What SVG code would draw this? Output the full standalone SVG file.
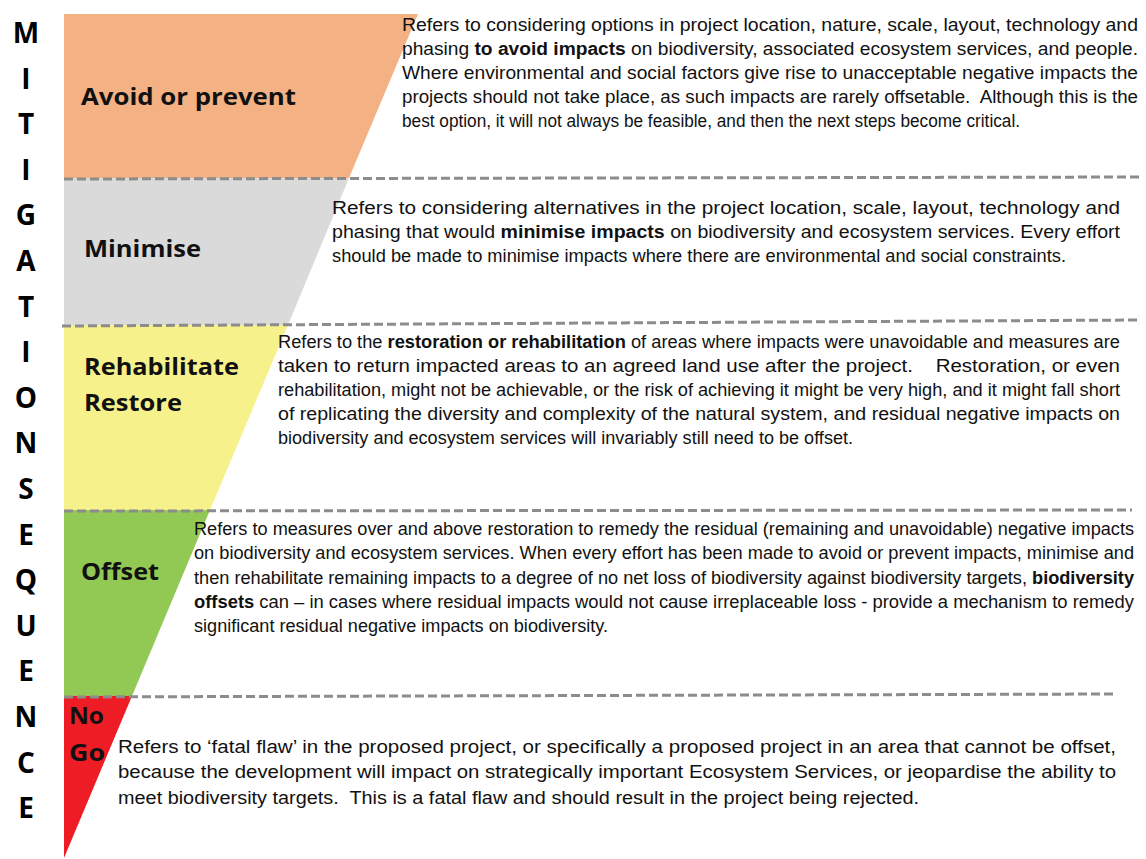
<svg xmlns="http://www.w3.org/2000/svg" width="1146" height="859" viewBox="0 0 1146 859">
<style>
.vl{font-family:"Open Sans",Lato,sans-serif;font-weight:700;font-size:28px;fill:#000;text-anchor:middle}
.lab{font-family:"Open Sans",Lato,sans-serif;font-weight:700;font-size:23px;fill:#111}
.d{font-family:"Liberation Sans",Arial,sans-serif;font-size:17.5px;fill:#111;white-space:pre}
.b{font-weight:700}
.dash{stroke:#8c8c8c;stroke-width:3;stroke-dasharray:9 4;fill:none}
</style>
<rect width="1146" height="859" fill="#fff"/>
<g id="title">
<text class="vl" x="26" y="43">M</text>
<text class="vl" x="26" y="89">I</text>
<text class="vl" x="26" y="134">T</text>
<text class="vl" x="26" y="180">I</text>
<text class="vl" x="26" y="225">G</text>
<text class="vl" x="26" y="271">A</text>
<text class="vl" x="26" y="317">T</text>
<text class="vl" x="26" y="362">I</text>
<text class="vl" x="26" y="408">O</text>
<text class="vl" x="26" y="453">N</text>
<text class="vl" x="26" y="499">S</text>
<text class="vl" x="26" y="545">E</text>
<text class="vl" x="26" y="590">Q</text>
<text class="vl" x="26" y="636">U</text>
<text class="vl" x="26" y="681">E</text>
<text class="vl" x="26" y="727">N</text>
<text class="vl" x="26" y="773">C</text>
<text class="vl" x="26" y="818">E</text>
</g>
<g id="avoid">
<polygon points="64,14 418,14 349,178 64,178" fill="#F4B183"/>
<text class="lab" x="81" y="105" textLength="215" lengthAdjust="spacingAndGlyphs">Avoid or prevent</text>
<text class="d" x="402" y="31" textLength="736" lengthAdjust="spacingAndGlyphs">Refers to considering options in project location, nature, scale, layout, technology and</text>
<text class="d" x="402" y="55" textLength="736" lengthAdjust="spacingAndGlyphs">phasing <tspan class="b">to avoid impacts</tspan> on biodiversity, associated ecosystem services, and people.</text>
<text class="d" x="402" y="79" textLength="736" lengthAdjust="spacingAndGlyphs">Where environmental and social factors give rise to unacceptable negative impacts the</text>
<text class="d" x="402" y="103" textLength="736" lengthAdjust="spacingAndGlyphs">projects should not take place, as such impacts are rarely offsetable.  Although this is the</text>
<text class="d" x="402" y="127" textLength="618" lengthAdjust="spacingAndGlyphs">best option, it will not always be feasible, and then the next steps become critical.</text>
</g>
<g id="minimise">
<polygon points="64,178 349,178 288,325 64,325" fill="#DADADA"/>
<text class="lab" x="84" y="257" textLength="117" lengthAdjust="spacingAndGlyphs">Minimise</text>
<text class="d" x="332" y="214" textLength="788" lengthAdjust="spacingAndGlyphs">Refers to considering alternatives in the project location, scale, layout, technology and</text>
<text class="d" x="332" y="238" textLength="788" lengthAdjust="spacingAndGlyphs">phasing that would <tspan class="b">minimise impacts</tspan> on biodiversity and ecosystem services. Every effort</text>
<text class="d" x="332" y="262" textLength="734" lengthAdjust="spacingAndGlyphs">should be made to minimise impacts where there are environmental and social constraints.</text>
</g>
<g id="rehabilitate">
<polygon points="64,325 288,325 210,510 64,510" fill="#F7F18C"/>
<text class="lab" x="84" y="375" textLength="155" lengthAdjust="spacingAndGlyphs">Rehabilitate</text>
<text class="lab" x="84" y="411" textLength="98" lengthAdjust="spacingAndGlyphs">Restore</text>
<text class="d" x="278" y="348" textLength="842" lengthAdjust="spacingAndGlyphs">Refers to the <tspan class="b">restoration or rehabilitation</tspan> of areas where impacts were unavoidable and measures are</text>
<text class="d" x="278" y="372" textLength="842" lengthAdjust="spacingAndGlyphs">taken to return impacted areas to an agreed land use after the project.    Restoration, or even</text>
<text class="d" x="278" y="396" textLength="842" lengthAdjust="spacingAndGlyphs">rehabilitation, might not be achievable, or the risk of achieving it might be very high, and it might fall short</text>
<text class="d" x="278" y="420" textLength="842" lengthAdjust="spacingAndGlyphs">of replicating the diversity and complexity of the natural system, and residual negative impacts on</text>
<text class="d" x="278" y="444" textLength="575" lengthAdjust="spacingAndGlyphs">biodiversity and ecosystem services will invariably still need to be offset.</text>
</g>
<g id="offset">
<polygon points="64,510 210,510 132,696 64,696" fill="#92C854"/>
<text class="lab" x="81" y="580" textLength="78" lengthAdjust="spacingAndGlyphs">Offset</text>
<text class="d" x="194" y="535" textLength="940" lengthAdjust="spacingAndGlyphs">Refers to measures over and above restoration to remedy the residual (remaining and unavoidable) negative impacts</text>
<text class="d" x="194" y="559" textLength="940" lengthAdjust="spacingAndGlyphs">on biodiversity and ecosystem services. When every effort has been made to avoid or prevent impacts, minimise and</text>
<text class="d" x="194" y="584" textLength="940" lengthAdjust="spacingAndGlyphs">then rehabilitate remaining impacts to a degree of no net loss of biodiversity against biodiversity targets, <tspan class="b">biodiversity</tspan></text>
<text class="d" x="194" y="608" textLength="940" lengthAdjust="spacingAndGlyphs"><tspan class="b">offsets</tspan> can – in cases where residual impacts would not cause irreplaceable loss - provide a mechanism to remedy</text>
<text class="d" x="194" y="632" textLength="414" lengthAdjust="spacingAndGlyphs">significant residual negative impacts on biodiversity.</text>
</g>
<g id="nogo">
<polygon points="64,696 132,696 64,858" fill="#EE1C25"/>
<text class="lab" x="69" y="724" textLength="35" lengthAdjust="spacingAndGlyphs">No</text>
<text class="lab" x="69" y="761" textLength="36" lengthAdjust="spacingAndGlyphs">Go</text>
<text class="d" x="118" y="753" textLength="998" lengthAdjust="spacingAndGlyphs">Refers to ‘fatal flaw’ in the proposed project, or specifically a proposed project in an area that cannot be offset,</text>
<text class="d" x="118" y="778" textLength="998" lengthAdjust="spacingAndGlyphs">because the development will impact on strategically important Ecosystem Services, or jeopardise the ability to</text>
<text class="d" x="118" y="804" textLength="801" lengthAdjust="spacingAndGlyphs">meet biodiversity targets.  This is a fatal flaw and should result in the project being rejected.</text>
</g>
<g id="connectors">
<line class="dash" x1="64" y1="179" x2="1143" y2="177"/>
<line class="dash" x1="62" y1="326" x2="1138" y2="320"/>
<line class="dash" x1="64" y1="511" x2="1132" y2="510"/>
<line class="dash" x1="64" y1="697" x2="1116" y2="694"/>
</g>
</svg>
